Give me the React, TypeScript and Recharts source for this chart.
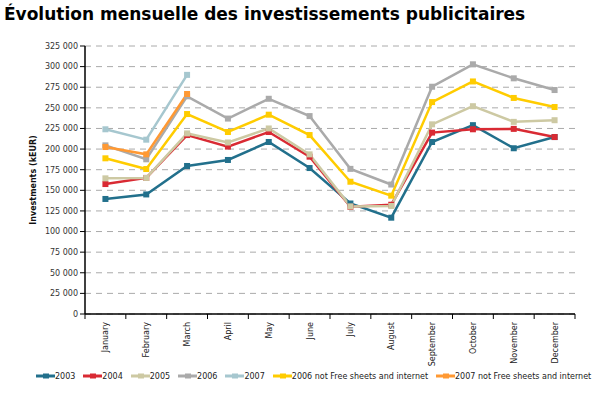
import { CartesianGrid, Legend, Line, LineChart, XAxis, YAxis } from "recharts";

const MONTHS = [
  "January",
  "February",
  "March",
  "April",
  "May",
  "June",
  "July",
  "August",
  "September",
  "October",
  "November",
  "December",
];

const Y2003 = [139500, 145000, 179500, 186800, 208600, 177000, 134000, 116800, 208600, 229000, 201000, 214600];
const Y2004 = [157600, 165000, 217000, 203000, 220700, 190800, 130000, 132500, 220000, 224000, 224500, 214600];
const Y2005 = [164500, 165000, 219000, 208000, 225000, 193600, 130500, 131000, 230000, 252000, 233000, 235000];
const Y2006 = [204500, 187600, 264000, 237000, 261000, 240000, 176000, 157000, 275600, 302800, 285800, 271600];
const Y2007 = [224000, 211400, 290000];
const NF2006 = [188800, 175800, 242500, 220700, 241700, 217000, 160400, 143500, 257000, 282000, 262000, 251000];
const NF2007 = [202500, 193600, 266800];

const Y_TICKS = [0, 25000, 50000, 75000, 100000, 125000, 150000, 175000, 200000, 225000, 250000, 275000, 300000, 325000];

const SERIES = [
  { key: "s2003", name: "2003", color: "#22708c", values: Y2003 },
  { key: "s2004", name: "2004", color: "#d92a33", values: Y2004 },
  { key: "s2005", name: "2005", color: "#cdc9a3", values: Y2005 },
  { key: "s2006", name: "2006", color: "#aaaaaa", values: Y2006 },
  { key: "s2007", name: "2007", color: "#a6c7cf", values: Y2007 },
  { key: "nf2006", name: "2006 not Free sheets and internet", color: "#ffcc00", values: NF2006 },
  { key: "nf2007", name: "2007 not Free sheets and internet", color: "#ff9933", values: NF2007 },
];

const data = MONTHS.map((month, i) => {
  const row: Record<string, number | string | undefined> = { x: i + 0.5, month };
  SERIES.forEach((s) => {
    row[s.key] = s.values[i];
  });
  return row;
});

const FONT = "'DejaVu Sans', Verdana, sans-serif";

const fmt = (v: number) =>
  v === 0 ? "0" : `${Math.floor(v / 1000)} ${String(v % 1000).padStart(3, "0")}`;

function SquareDot(props: any) {
  const { cx, cy, value, stroke } = props;
  if (value == null || cx == null || cy == null) return <g />;
  return <rect x={cx - 3} y={cy - 3} width={6} height={6} fill={stroke} />;
}

function MonthTick(props: any) {
  const { x, y, payload } = props;
  const label = MONTHS[Math.floor(payload.value)];
  return (
    <g transform={`translate(${x},${y})`}>
      <text
        x={0}
        y={0}
        dy={3}
        textAnchor="end"
        transform="rotate(-90)"
        fontSize={8}
        fontFamily={FONT}
        fill="#222"
      >
        {label}
      </text>
    </g>
  );
}

function YLabel(props: any) {
  const { viewBox } = props;
  const cx = 33;
  const cy = viewBox.y + viewBox.height / 2;
  return (
    <text
      x={cx}
      y={cy}
      transform={`rotate(-90, ${cx}, ${cy})`}
      textAnchor="middle"
      dominantBaseline="central"
      fontSize={8}
      fontWeight="bold"
      fontFamily={FONT}
      fill="#111"
    >
      Investments (kEUR)
    </text>
  );
}

function LegendContent() {
  return (
    <div
      style={{
        display: "flex",
        alignItems: "center",
        paddingLeft: 36,
        fontFamily: FONT,
        fontSize: 8,
        color: "#222",
        height: 14,
        whiteSpace: "nowrap",
      }}
    >
      {SERIES.map((s) => (
        <div key={s.key} style={{ display: "flex", alignItems: "center", marginRight: 8 }}>
          <svg width={19} height={8}>
            <line x1={0} y1={4} x2={19} y2={4} stroke={s.color} strokeWidth={3} />
            <rect x={7} y={1.5} width={6} height={5} fill={s.color} />
          </svg>
          <span>{s.name}</span>
        </div>
      ))}
    </div>
  );
}

export default function App() {
  return (
    <div style={{ position: "absolute", left: 0, top: 0, width: 600, height: 394, background: "#fff" }}>
      <div
        style={{
          position: "absolute",
          left: 4,
          top: 4,
          fontFamily: FONT,
          fontWeight: "bold",
          fontSize: 17,
          color: "#000",
          whiteSpace: "nowrap",
        }}
      >
        Évolution mensuelle des investissements publicitaires
      </div>
      <LineChart
        width={600}
        height={394}
        data={data}
        margin={{ top: 46, right: 25, left: 0, bottom: 11 }}
      >
        <CartesianGrid
          xAxisId="b"
          vertical={false}
          stroke="#aaaaaa"
          strokeDasharray="6 5"
        />
        <XAxis
          xAxisId="b"
          type="number"
          dataKey="x"
          domain={[0, 12]}
          ticks={MONTHS.map((_, i) => i).concat([12])}
          tickFormatter={() => ""}
          tickSize={5}
          tickLine={{ stroke: "#000" }}
          axisLine={{ stroke: "#000", strokeWidth: 1.5 }}
          height={6}
        />
        <XAxis
          xAxisId="m"
          type="number"
          dataKey="x"
          domain={[0, 12]}
          ticks={data.map((d) => d.x as number)}
          interval={0}
          axisLine={false}
          tickLine={false}
          tickSize={0}
          tickMargin={2}
          height={49}
          tick={<MonthTick />}
        />
        <YAxis
          type="number"
          domain={[0, 325000]}
          ticks={Y_TICKS}
          interval={0}
          width={85}
          tickSize={5}
          tickMargin={2}
          tickLine={{ stroke: "#000" }}
          axisLine={{ stroke: "#000", strokeWidth: 1.5 }}
          tick={{ fontSize: 8, fontFamily: FONT, fill: "#333" }}
          tickFormatter={fmt}
          label={<YLabel />}
        />
        <Legend verticalAlign="bottom" height={14} content={<LegendContent />} />
        {SERIES.map((s) => (
          <Line
            key={s.key}
            xAxisId="b"
            type="linear"
            dataKey={s.key}
            name={s.name}
            stroke={s.color}
            strokeWidth={2.5}
            dot={<SquareDot />}
            activeDot={false}
            isAnimationActive={false}
          />
        ))}
      </LineChart>
    </div>
  );
}
